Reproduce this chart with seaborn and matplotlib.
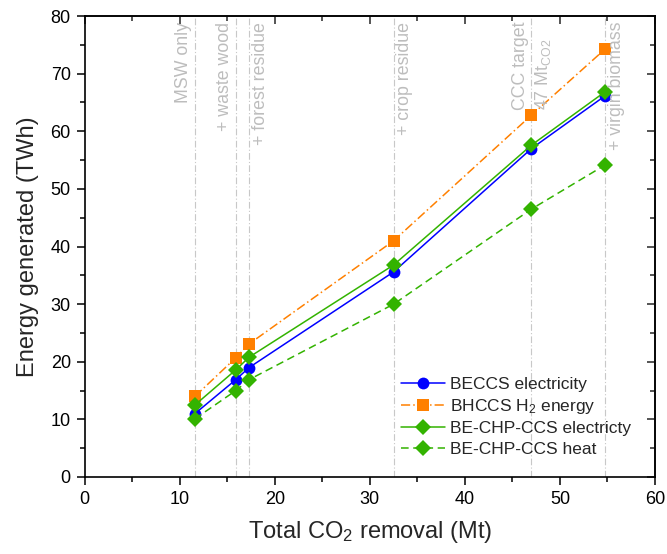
import matplotlib
matplotlib.use("Agg")
import matplotlib.pyplot as plt
import seaborn as sns
import pandas as pd
from matplotlib.ticker import MultipleLocator

# Data
removal = [11.6, 15.9, 17.3, 32.5, 47.0, 54.7]
beccs_elec = [11.0, 16.9, 19.0, 35.6, 57.0, 66.1]
bhccs_h2 = [14.0, 20.7, 23.1, 41.0, 62.8, 74.2]
chp_elec = [12.5, 18.6, 20.8, 36.8, 57.6, 66.8]
chp_heat = [10.1, 15.0, 16.9, 30.0, 46.5, 54.1]
series_names = ["BECCS electricity", "BHCCS H$_2$ energy",
                "BE-CHP-CCS electricty", "BE-CHP-CCS heat"]
annot_labels = ["MSW only", "+ waste wood", "+ forest residue",
                "+ crop residue", "CCC target\n47 Mt$_{\\mathrm{CO2}}$", "+ virgin biomass"]

sns.set_theme(style="ticks")
plt.rcParams['font.family'] = ['Liberation Sans', 'DejaVu Sans']
plt.rcParams['mathtext.fontset'] = 'custom'
plt.rcParams['mathtext.rm'] = 'Liberation Sans'
plt.rcParams['mathtext.it'] = 'Liberation Sans:italic'

fig = plt.figure(figsize=(6.67, 5.54), dpi=100)
ax = fig.add_axes([0.127, 0.139, 0.855, 0.832])

styles = [
    dict(color="#0000FF", marker="o", ls="-", ms=8.5),
    dict(color="#FF8000", marker="s", ls=(0, (6, 2, 1, 2)), ms=8),
    dict(color="#33B300", marker="D", ls="-", ms=8.5),
    dict(color="#33B300", marker="D", ls=(0, (5, 3)), ms=8.5),
]
all_vals = [beccs_elec, bhccs_h2, chp_elec, chp_heat]

# vertical lines
grey = "#BDBDBD"
for xv in removal:
    ax.axvline(xv, color="#C8C8C8", lw=0.8, ls=(0, (6, 2, 1, 2)), zorder=0)

for name, vals, st in zip(series_names, all_vals, styles):
    df = pd.DataFrame({"x": removal, "y": vals})
    sns.lineplot(data=df, x="x", y="y", ax=ax, color=st["color"],
                 marker=st["marker"], markersize=st["ms"], linestyle=st["ls"],
                 linewidth=1.1, markeredgewidth=0, label=name)

# annotations
fs = 12.8
ytop = 79.0
ax.text(removal[0] - 0.3, ytop, annot_labels[0], rotation=90, ha="right", va="top", color=grey, fontsize=fs)
ax.text(removal[1] - 0.3, ytop, annot_labels[1], rotation=90, ha="right", va="top", color=grey, fontsize=fs)
ax.text(removal[2] + 0.3, ytop, annot_labels[2], rotation=90, ha="left", va="top", color=grey, fontsize=fs)
ax.text(removal[3] + 0.3, ytop, annot_labels[3], rotation=90, ha="left", va="top", color=grey, fontsize=fs)
ax.text(removal[4] + 0.1, ytop, annot_labels[4], rotation=90, ha="center", va="top", color=grey,
        fontsize=fs, multialignment="left", linespacing=1.3)
ax.text(removal[5] + 0.35, ytop, annot_labels[5], rotation=90, ha="left", va="top", color=grey, fontsize=fs)

ax.set_xlim(0, 60)
ax.set_ylim(0, 80)
ax.xaxis.set_major_locator(MultipleLocator(10))
ax.xaxis.set_minor_locator(MultipleLocator(5))
ax.yaxis.set_major_locator(MultipleLocator(10))
ax.yaxis.set_minor_locator(MultipleLocator(5))
ax.tick_params(which="both", direction="out", labelsize=13, width=1.1, colors="black", pad=4)
ax.tick_params(which="major", length=6)
ax.tick_params(which="minor", length=3.5)
for spine in ax.spines.values():
    spine.set_visible(True)
    spine.set_linewidth(1.2)
    spine.set_color("black")
# Inward ticks for top/right via secondary axes
secx = ax.secondary_xaxis("top")
secx.xaxis.set_major_locator(MultipleLocator(10))
secx.xaxis.set_minor_locator(MultipleLocator(5))
secx.tick_params(which="both", direction="in", labeltop=False, width=1.1)
secx.tick_params(which="major", length=6)
secx.tick_params(which="minor", length=3.5)
secy = ax.secondary_yaxis("right")
secy.yaxis.set_major_locator(MultipleLocator(10))
secy.yaxis.set_minor_locator(MultipleLocator(5))
secy.tick_params(which="both", direction="in", labelright=False, width=1.1)
secy.tick_params(which="major", length=6)
secy.tick_params(which="minor", length=3.5)
ax.tick_params(which="both", top=False, right=False)

ax.set_xlabel("Total CO$_2$ removal (Mt)", fontsize=17, labelpad=8)
ax.set_ylabel("Energy generated (TWh)", fontsize=17, labelpad=8)

leg = ax.legend(loc="lower right", bbox_to_anchor=(0.985, 0.01), frameon=False, fontsize=12.5,
                handlelength=2.5, labelspacing=0.3, handletextpad=0.3)

fig.savefig("out.png", dpi=100)
